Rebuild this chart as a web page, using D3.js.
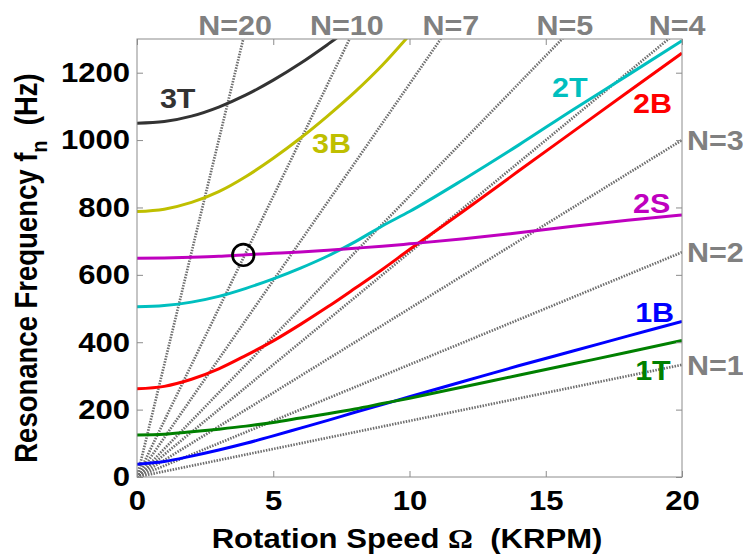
<!DOCTYPE html>
<html>
<head>
<meta charset="utf-8">
<script src="https://cdn.jsdelivr.net/npm/d3@7"></script>
<style>
  html, body { margin: 0; padding: 0; background: #fff; }
  svg text { font-family: "Liberation Sans", Arial, Helvetica, sans-serif; font-weight: bold; }
</style>
</head>
<body>
<svg id="chart" width="743" height="558"></svg>
<script>
// ---- data ----
const omega = [0, 1, 2, 3, 4, 5, 6, 7, 8, 9, 10, 12, 14, 16, 18, 20];   // KRPM
const mode3T = [1050, 1055, 1071, 1098, 1134, 1178, 1228, 1284, 1343, null, null, null, null, null, null, null];
const mode3B = [788, 795, 815, 847, 892, 946, 1006, 1072, 1143, 1222, 1312, null, null, null, null, null];
const mode2T = [505, 509, 519, 536, 560, 588, 620, 656, 698, 745, 788, 884, 985, 1090, 1192, 1295];
const mode2B = [262, 269, 290, 321, 361, 404, 453, 505, 560, 616, 675, 790, 908, 1025, 1142, 1258];
const mode2S = [649, 650, 652, 655, 660, 664, 668, 673, 679, 685, 692, 707, 725, 744, 762, 778];
const mode1B = [38, 46, 62, 80, 100, 122, 145, 168, 192, 215, 238, 284, 330, 374, 418, 462];
const mode1T = [125, 127, 134, 142, 151, 162, 175, 188, 202, 218, 234, 268, 302, 336, 370, 405];

const modeNames = ["3T", "3B", "2T", "2B", "2S", "1B", "1T"];
const modeColors = ["#333333", "#bfbf00", "#00bfbf", "#ff0000", "#bf00bf", "#0000ff", "#008000"];

// engine-order lines: frequency reached at 20 KRPM
const orderN = [1, 2, 3, 4, 5, 7, 10, 20];
const orderEndOmega = 20;
const orderEndFreq = [333, 667, 1000, 1333, 1667, 2333, 3333, 6667];

const xTicks = [0, 5, 10, 15, 20];
const yTicks = [0, 200, 400, 600, 800, 1000, 1200];

// labels (data units)
const modeLabelPos = [[0.84, 1096], [6.42, 962], [15.23, 1128], [18.2, 1080], [18.2, 784], [18.28, 460], [18.28, 288]];
const topOrderLabels = ["N=20", "N=10", "N=7", "N=5", "N=4"];
const topOrderLabelOmega = [3.6, 7.7, 11.52, 15.7, 19.82];
const rightOrderLabels = ["N=3", "N=2", "N=1"];
const rightOrderLabelFreq = [1000, 667, 333];

const marker = [3.9, 659];

// ---- layout ----
const svg = d3.select("#chart");
const L = 137, R = 682, T = 39, B = 477;
const x = d3.scaleLinear().domain([0, 20]).range([L, R]);
const y = d3.scaleLinear().domain([0, 1300]).range([B, T]);
const FS = 27.5;
const SX = 1.13;   // horizontal stretch of the text glyphs
const gray = "#808080";

const stretch = (sel) => sel.each(function () {
  const t = d3.select(this);
  const x0 = +t.attr("x") || 0;
  const prev = t.attr("transform") || "";
  t.attr("transform", `${prev} translate(${x0},0) scale(${SX},1) translate(${-x0},0)`);
});

svg.append("defs").append("clipPath").attr("id", "plotclip")
  .append("rect").attr("x", L).attr("y", T).attr("width", R - L).attr("height", B - T);

const plot = svg.append("g").attr("clip-path", "url(#plotclip)");

// order lines
const lineGen = d3.line().x(d => x(d[0])).y(d => y(d[1]));
orderN.forEach((n, i) => {
  plot.append("path")
    .attr("d", lineGen([[0, 0], [orderEndOmega, orderEndFreq[i]]]))
    .attr("fill", "none")
    .attr("stroke", "#6e6e6e")
    .attr("stroke-width", 2.7)
    .attr("stroke-dasharray", "1.5,1.3");
});

// mode curves
const modes = [mode3T, mode3B, mode2T, mode2B, mode2S, mode1B, mode1T];
const curveGen = d3.line()
  .defined(d => d[1] != null)
  .x(d => x(d[0])).y(d => y(d[1]))
  .curve(d3.curveMonotoneX);
modes.forEach((vals, i) => {
  plot.append("path")
    .attr("d", curveGen(omega.map((o, j) => [o, vals[j]])))
    .attr("fill", "none")
    .attr("stroke", modeColors[i])
    .attr("stroke-width", 3);
});

// marker circle
svg.append("circle")
  .attr("cx", x(marker[0])).attr("cy", y(marker[1]))
  .attr("r", 10.8)
  .attr("fill", "none").attr("stroke", "#000").attr("stroke-width", 2.7);

// box
svg.append("rect").attr("x", L).attr("y", T).attr("width", R - L).attr("height", B - T)
  .attr("fill", "none").attr("stroke", "#8c8c8c").attr("stroke-width", 1);

// axes
const styleAxis = g => {
  g.select(".domain").remove();
  g.selectAll(".tick line").attr("stroke", "#8c8c8c");
  g.selectAll(".tick text").attr("fill", "#000").style("font-size", FS + "px")
    .style("font-family", "'Liberation Sans', Arial, sans-serif").style("font-weight", "bold")
    .call(stretch);
};
svg.append("g").attr("transform", `translate(0,${B})`)
  .call(d3.axisBottom(x).tickValues(xTicks).tickFormat(d3.format("d")).tickSize(-6).tickPadding(13))
  .call(styleAxis);
svg.append("g").attr("transform", `translate(0,${T})`)
  .call(d3.axisTop(x).tickValues(xTicks).tickFormat("").tickSize(-6))
  .call(styleAxis);
svg.append("g").attr("transform", `translate(${L},0)`)
  .call(d3.axisLeft(y).tickValues(yTicks).tickFormat(d3.format("d")).tickSize(-6).tickPadding(7))
  .call(styleAxis);
svg.append("g").attr("transform", `translate(${R},0)`)
  .call(d3.axisRight(y).tickValues(yTicks).tickFormat("").tickSize(-6))
  .call(styleAxis);

// mode labels
modeNames.forEach((nm, i) => {
  svg.append("text")
    .attr("x", x(modeLabelPos[i][0])).attr("y", y(modeLabelPos[i][1]))
    .attr("fill", modeColors[i]).style("font-size", "27px")
    .text(nm).call(stretch);
});

// order labels
topOrderLabels.forEach((t, i) => {
  svg.append("text")
    .attr("x", x(topOrderLabelOmega[i])).attr("y", 35)
    .attr("text-anchor", "middle").attr("fill", gray).style("font-size", "27px")
    .text(t).call(stretch);
});
rightOrderLabels.forEach((t, i) => {
  svg.append("text")
    .attr("x", R + 5).attr("y", y(rightOrderLabelFreq[i]) + 10)
    .attr("fill", gray).style("font-size", "27px")
    .text(t).call(stretch);
});

// axis titles
const xt = svg.append("text")
  .attr("x", 407).attr("y", 548)
  .attr("text-anchor", "middle").attr("fill", "#000").style("font-size", FS + "px")
  .style("white-space", "pre");
xt.append("tspan").text("Rotation Speed ");
xt.append("tspan").style("font-family", "'Liberation Serif', 'DejaVu Serif', serif").text("Ω");
xt.append("tspan").text("\u00A0\u00A0(KRPM)");
xt.call(stretch);

const yt = svg.append("text")
  .attr("transform", `translate(37,268) scale(${SX},1) rotate(-90)`)
  .attr("text-anchor", "middle").attr("fill", "#000").style("font-size", FS + "px");
yt.append("tspan").text("Resonance Frequency f");
yt.append("tspan").attr("dy", 9).style("font-size", "20px").text("n");
yt.append("tspan").attr("dy", -9).text("\u00A0\u00A0(Hz)");
</script>
</body>
</html>
